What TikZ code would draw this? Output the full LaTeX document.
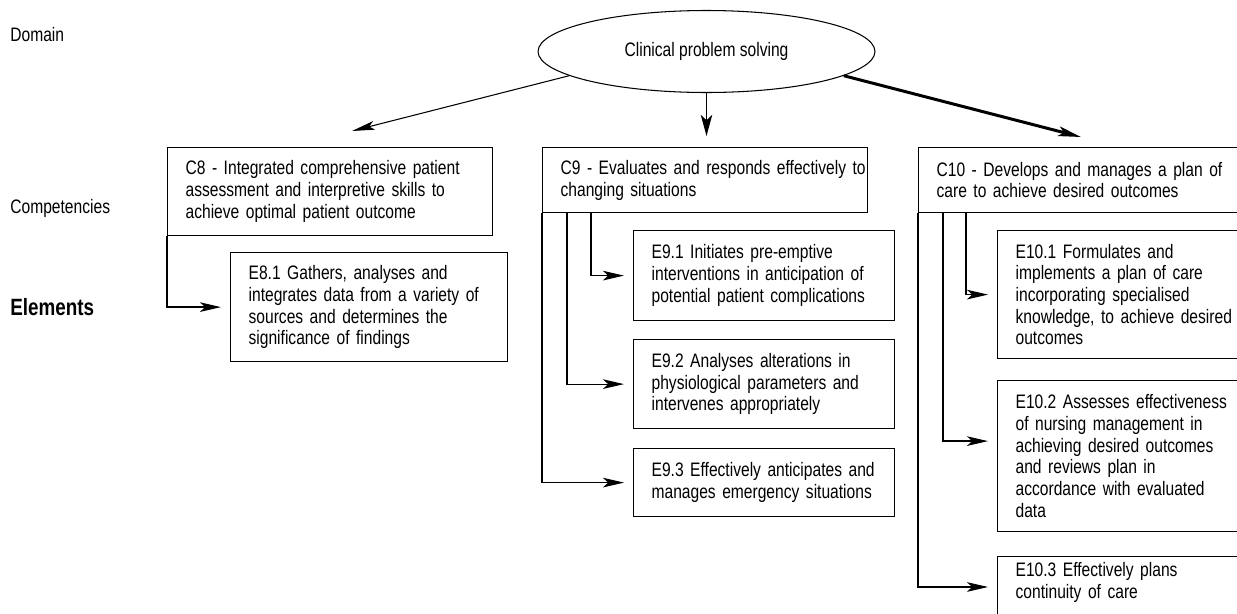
\documentclass[tikz,border=0pt]{standalone}
\usepackage{fontspec}
\setmainfont{Liberation Sans}[FakeStretch=0.8]
\usetikzlibrary{shapes.geometric,arrows.meta}

\begin{document}
\begin{tikzpicture}[x = 0.02cm, y = -0.02cm,
  txt/.style = {font = \fontsize{11.1}{12.35}\selectfont, inner sep = 0},
  cbox/.style = {txt, draw, line width = 0.7pt, anchor = north west, align = left, inner xsep = 0, inner ysep = 0,
    execute at begin node = {\leftskip = 0.36cm\hyphenpenalty = 10000}},
  link/.style = {line width = 0.7pt, -{Stealth[length = 12pt, width = 5.5pt, inset = 3pt]}, shorten > = 0.18cm}]
  \useasboundingbox (0,0) rectangle (1237,613);
  \clip (0,0) rectangle (1237,613);

  \node[txt, anchor = west] (domain) at (10,35) {Domain};
  \node[txt, anchor = west] (comp) at (10,208) {Competencies};
  \node[txt, anchor = west, font = \fontsize{13.4}{16}\selectfont\bfseries] (elem) at (10,307) {Elements};

  \node[txt, draw, ellipse, line width = 0.6pt, minimum width = 6.74cm, minimum height = 1.64cm] (top) at (706.5,51.5) {Clinical problem solving};

  \node[cbox, text width = 6.5cm, minimum height = 1.76cm] (c8) at (167,147) {C8 - Integrated comprehensive patient\\assessment and interpretive skills to\\achieve optimal patient outcome};
  \node[cbox, text width = 6.5cm, minimum height = 1.3cm] (c9) at (542,147) {\mbox{C9 - Evaluates and responds effectively to}\\changing situations};
  \node[cbox, text width = 6.8cm, minimum height = 1.3cm] (c10) at (918,147) {C10 - Develops and manages a plan of\\care to achieve desired outcomes};

  \node[cbox, text width = 5.54cm, minimum height = 2.18cm] (e81) at (230,252) {E8.1 Gathers, analyses and\\integrates data from a variety of\\sources and determines the\\significance of findings};

  \node[cbox, text width = 5.22cm, minimum height = 1.8cm] (e91) at (633,230) {E9.1 Initiates pre-emptive\\interventions in anticipation of\\potential patient complications};
  \node[cbox, text width = 5.22cm, minimum height = 1.78cm] (e92) at (633,339) {E9.2 Analyses alterations in\\physiological parameters and\\intervenes appropriately};
  \node[cbox, text width = 5.22cm, minimum height = 1.36cm] (e93) at (633,448) {E9.3 Effectively anticipates and\\manages emergency situations};

  \node[cbox, text width = 6cm, minimum height = 2.56cm] (e101) at (997,230) {E10.1 Formulates and\\implements a plan of care\\incorporating specialised\\knowledge, to achieve desired\\outcomes};
  \node[cbox, text width = 6cm, minimum height = 3.02cm] (e102) at (997,380) {E10.2 Assesses effectiveness\\of nursing management in\\achieving desired outcomes\\and reviews plan in\\accordance with evaluated\\data};
  \node[cbox, text width = 6cm, inner ysep = 0.12cm, text depth = 1.5cm] (e103) at (997,556) {E10.3 Effectively plans\\continuity of care};

  \coordinate (c8tip) at (352,131);
  \coordinate (c9tip) at (706.5,136);
  \coordinate (c10tip) at (1081,137);
  \draw[line width = 0.6pt, -{Stealth[length = 13pt, width = 5pt, inset = 3pt]}] (top.190) -- (c8tip);
  \draw[line width = 1.1pt, -{Stealth[length = 12pt, width = 6.5pt, inset = 3pt]}] (top.south) -- (c9tip);
  \draw[line width = 1.7pt, -{Stealth[length = 13pt, width = 5.5pt, inset = 3pt]}] (top.-10) -- (c10tip);

  \draw[link] (c8.south west) |- (e81.west);
  \draw[link] (c9.south west) |- (e93.west);
  \draw[link] ([xshift = 0.5cm]c9.south west) |- (e92.west);
  \draw[link] ([xshift = 0.98cm]c9.south west) |- (e91.west);
  \draw[link] (c10.south west) |- ([yshift = -0.62cm]e103.north west);
  \draw[link] ([xshift = 0.5cm]c10.south west) |- ([yshift = 0.3cm]e102.west);
  \draw[link] ([xshift = 0.96cm]c10.south west) |- (e101.west);
\end{tikzpicture}
\end{document}
